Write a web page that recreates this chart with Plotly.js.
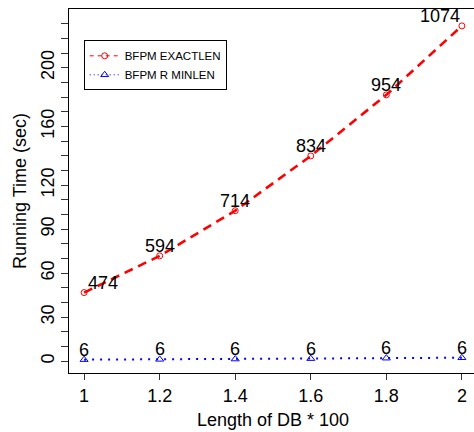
<!DOCTYPE html>
<html><head><meta charset="utf-8">
<script src="https://cdn.plot.ly/plotly-3.0.1.min.js"></script>
<style>html,body{margin:0;padding:0;overflow:hidden;background:#fff}#chart{width:480px;height:432px}</style>
</head><body><div id="chart"></div>
<script>
const xVals = [1, 1.2, 1.4, 1.6, 1.8, 2];
const exactTimes = [46.8, 71.8, 102.6, 139.9, 181.5, 228.5];
const minTimes = [1.1, 1.3, 1.5, 1.8, 2.1, 2.4];
const exactLabels = ['474', '594', '714', '834', '954', '1074'];
const minLabels = ['6', '6', '6', '6', '6', '6'];
const xTickVals = [1, 1.2, 1.4, 1.6, 1.8, 2];
const xTickText = ['1', '1.2', '1.4', '1.6', '1.8', '2'];
const yLabelVals = [0, 30, 60, 90, 120, 160, 200];
const seriesNames = ['BFPM EXACTLEN', 'BFPM R MINLEN'];

// style-only offsets for the red point labels
const exactShiftX = [19, 0, 0, 0, 0, -22];

const FONT = 'Liberation Sans, Arial, sans-serif';

const yTickVals = [];
for (let v = 0; v <= 230; v += 10) yTickVals.push(v);
const yTickText = yTickVals.map(v => yLabelVals.includes(v) ? String(v) : '');

const traces = [
  {
    x: xVals, y: exactTimes, name: seriesNames[0], type: 'scatter', mode: 'lines+markers',
    showlegend: false,
    line: {color: '#ff0000', width: 2.6, dash: '9px,6px'},
    marker: {symbol: 'circle-open', size: 6, color: '#ff0000', line: {width: 1, color: '#ff0000'}}
  },
  {
    x: xVals, y: minTimes, name: seriesNames[1], type: 'scatter', mode: 'lines+markers',
    showlegend: false,
    line: {color: '#0000ff', width: 2, dash: '2px,6px'},
    marker: {symbol: 'triangle-up-open', size: 7, color: '#0000ff', line: {width: 1, color: '#0000ff'}}
  },
  // legend-only entries (thin line style as in the reference key)
  {
    x: [null], y: [null], name: seriesNames[0], type: 'scatter', mode: 'lines+markers',
    line: {color: '#ff0000', width: 1, dash: '4px,4px'},
    marker: {symbol: 'circle-open', size: 6, color: '#ff0000', line: {width: 1, color: '#ff0000'}}
  },
  {
    x: [null], y: [null], name: seriesNames[1], type: 'scatter', mode: 'lines+markers',
    line: {color: '#0000ff', width: 1, dash: '1px,3px'},
    marker: {symbol: 'triangle-up-open', size: 7, color: '#0000ff', line: {width: 1, color: '#0000ff'}}
  }
];

const annotations = [];
xVals.forEach((x, i) => {
  annotations.push({x: x, y: exactTimes[i], xref: 'x', yref: 'y', text: exactLabels[i], showarrow: false,
    xanchor: 'center', yanchor: 'middle', xshift: exactShiftX[i], yshift: 10,
    font: {family: FONT, size: 18, color: '#000'}});
  annotations.push({x: x, y: minTimes[i], xref: 'x', yref: 'y', text: minLabels[i], showarrow: false,
    xanchor: 'center', yanchor: 'middle', yshift: 10,
    font: {family: FONT, size: 18, color: '#000'}});
});

const layout = {
  width: 480, height: 432,
  margin: {l: 69, r: 3, t: 9, b: 59},
  paper_bgcolor: '#fff', plot_bgcolor: '#fff',
  font: {family: FONT, size: 18, color: '#000'},
  showlegend: true,
  legend: {
    x: 0.036, y: 0.914, xanchor: 'left', yanchor: 'top',
    bgcolor: '#fff', bordercolor: '#000', borderwidth: 1,
    font: {family: FONT, size: 11.5, color: '#000'},
    itemwidth: 30, tracegroupgap: 0
  },
  xaxis: {
    range: [0.96, 2.04], tickmode: 'array', tickvals: xTickVals, ticktext: xTickText,
    showgrid: false, zeroline: false, showline: true, linecolor: '#000', linewidth: 1, mirror: true,
    ticks: 'outside', ticklen: 6, tickcolor: '#333', tickwidth: 1,
    tickfont: {family: FONT, size: 18, color: '#000'},
    title: {text: 'Length of DB * 100', font: {family: FONT, size: 18, color: '#000'}, standoff: 8},
    automargin: false
  },
  yaxis: {
    range: [-8, 240], tickmode: 'array', tickvals: yTickVals, ticktext: yTickText,
    showgrid: false, zeroline: false, showline: true, linecolor: '#000', linewidth: 1, mirror: true,
    ticks: 'outside', ticklen: 7, tickcolor: '#333', tickwidth: 1, tickangle: -90,
    tickfont: {family: FONT, size: 18, color: '#000'},
    title: {text: 'Running Time (sec)', font: {family: FONT, size: 18, color: '#000'}, standoff: 6},
    automargin: false
  },
  annotations: annotations
};

Plotly.newPlot('chart', traces, layout, {displayModeBar: false, staticPlot: true});
</script></body></html>
